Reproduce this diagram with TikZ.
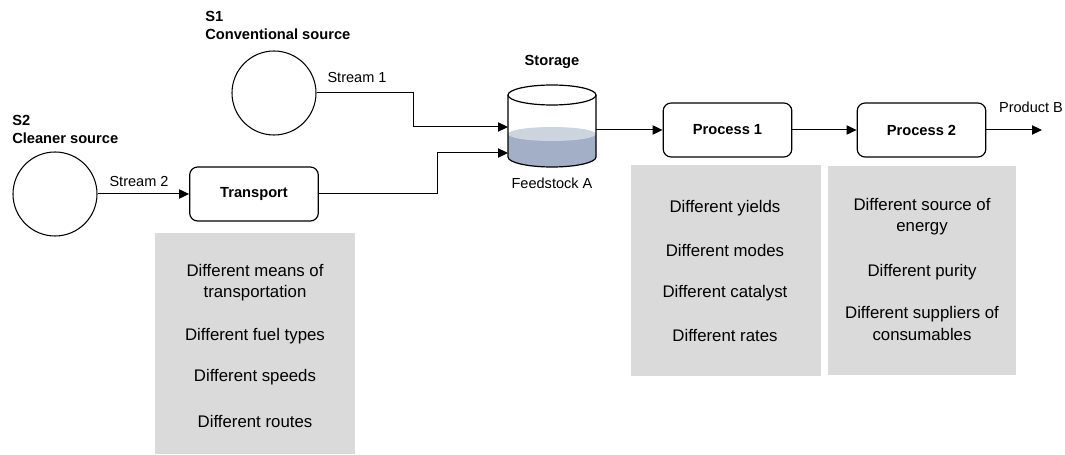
\documentclass[tikz,border=0pt]{standalone}
\usepackage{fontspec}
\setmainfont{Liberation Sans}
\usetikzlibrary{arrows.meta,calc}
\definecolor{infogray}{RGB}{218,218,218}
\definecolor{liqtop}{RGB}{204,212,224}
\definecolor{liqbody}{RGB}{162,175,199}
\begin{document}
\begin{tikzpicture}[x=0.75pt,y=0.75pt,
  lbl/.style={font=\fontsize{10.9}{13}\selectfont, inner sep=0pt},
  head/.style={font=\fontsize{11}{13.5}\selectfont\bfseries, inner sep=0pt, align=left},
  src/.style={draw, circle, line width=0.8pt, minimum size=63pt, inner sep=0pt},
  procbox/.style={draw, rounded corners=6pt, line width=0.9pt, minimum width=96.5pt, minimum height=40.5pt, inner sep=0pt, font=\fontsize{11}{13}\selectfont\bfseries},
  infobox/.style={fill=infogray, draw=none, inner sep=0pt},
  info/.style={font=\fontsize{12.6}{15.8}\selectfont, align=center, inner sep=0pt},
  flow/.style={line width=0.75pt, -{Triangle[length=7.5pt,width=7pt]}}
]
\useasboundingbox (0,0) rectangle (1065,454);

% grey info panels
\node[infobox, minimum width=150pt, minimum height=165.75pt] (tinfo) at (255,110.5) {};
\node[infobox, minimum width=142.5pt, minimum height=158.25pt] (p1info) at (726,183.5) {};
\node[infobox, minimum width=141pt, minimum height=156.75pt] (p2info) at (922,183.5) {};

% sources
\node[head, anchor=west] (s1lbl) at (205,429) {S1\\Conventional source};
\node[src] (s1) at (274,361) {};
\node[head, anchor=west] (s2lbl) at (12,325) {S2\\Cleaner source};
\node[src] (s2) at (55,260) {};

\node[lbl] (st1) at (357,377) {Stream 1};
\node[lbl] (st2) at (139,273) {Stream 2};

% transport
\node[procbox] (transport) at (254,260) {Transport};

% storage cylinder
\node[minimum width=66pt, minimum height=61.5pt, inner sep=0pt] (storage) at (552,328) {};
\fill[liqbody] (508,320) -- (508,297) arc[start angle=180,end angle=360,x radius=44,y radius=10] -- (596,320) -- cycle;
\fill[liqtop] (552,320) ellipse[x radius=44, y radius=7];
\draw[line width=0.9pt] (508,359) -- (508,297) arc[start angle=180,end angle=360,x radius=44,y radius=10] -- (596,359);
\draw[line width=0.9pt] (552,359) ellipse[x radius=44, y radius=10];
\node[head] (storlbl) at (552,392) {Storage};
\node[lbl] (feed) at (552,271) {Feedstock A};

% processes
\node[procbox] (p1) at (727.5,324) {Process 1};
\node[procbox] (p2) at (921.5,324) {Process 2};
\coordinate (prodend) at (1042,324);
\node[lbl] (prodlbl) at (1031,347) {Product B};

% connectors
\coordinate (in1) at (508,327);
\coordinate (in2) at (508,301);
\draw[flow] (s1.east) -- (413,361) |- (in1);
\draw[flow] (s2.east) -- (transport.west);
\draw[flow] (transport.east) -- (437,260) |- (in2);
\draw[flow] (596,324) -- (p1.west);
\draw[flow] (p1.east) -- (p2.west);
\draw[flow] (p2.east) -- (prodend);

% info texts
\node[info] (t1) at (255,171.5) {Different means of\\transportation};
\node[info] (t2) at (255,118) {Different fuel types};
\node[info] (t3) at (255,77) {Different speeds};
\node[info] (t4) at (255,33) {Different routes};

\node[info] (a1) at (725,246) {Different yields};
\node[info] (a2) at (725,204) {Different modes};
\node[info] (a3) at (725,161) {Different catalyst};
\node[info] (a4) at (725,119) {Different rates};

\node[info] (b1) at (922,237) {Different source of\\energy};
\node[info] (b2) at (922,182) {Different purity};
\node[info] (b3) at (922,130.5) {Different suppliers of\\consumables};
\end{tikzpicture}
\end{document}
